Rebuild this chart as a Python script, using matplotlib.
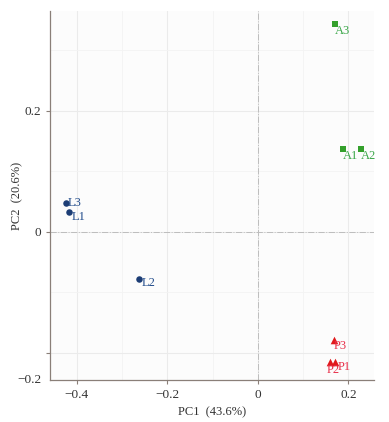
import matplotlib
matplotlib.use("Agg")
import matplotlib.pyplot as plt
from matplotlib.ticker import MultipleLocator

plt.rcParams['font.family'] = ['Liberation Serif', 'DejaVu Serif']

# sample scores on the first two components
names = ['L1', 'L2', 'L3', 'A1', 'A2', 'A3', 'P1', 'P2', 'P3']
pc1 = [-0.417, -0.263, -0.424, 0.188, 0.227, 0.170, 0.170, 0.160, 0.168]
pc2 = [0.033, -0.078, 0.048, 0.137, 0.137, 0.344, -0.215, -0.215, -0.179]
groups = ['L', 'L', 'L', 'A', 'A', 'A', 'P', 'P', 'P']

colours = {'L': '#1c3d75', 'A': '#34a02c', 'P': '#e0191b'}
text_colours = {'L': '#1f4a8a', 'A': '#3aa648', 'P': '#e8304a'}
markers = {'L': 'o', 'A': 's', 'P': '^'}

# label offsets in points (like ggrepel nudges)
nudge = {'L1': (2, -4), 'L2': (2, -3), 'L3': (1, 0), 'A1': (0, -5), 'A2': (0, -5),
         'A3': (0, -5), 'P1': (2, -4), 'P2': (-3, -6), 'P3': (0, -4)}

fig = plt.figure(figsize=(3.89, 4.22), dpi=100)
ax = fig.add_axes([0.1285, 0.0995, 0.8325, 0.8745])
ax.set_facecolor('#fcfcfc')

for g in ['L', 'A', 'P']:
    xs = [x for x, gg in zip(pc1, groups) if gg == g]
    ys = [y for y, gg in zip(pc2, groups) if gg == g]
    size = 30 if g == 'P' else 22
    ax.scatter(xs, ys, marker=markers[g], color=colours[g], s=size, zorder=3, linewidths=0)

for n, x, y, g in zip(names, pc1, pc2, groups):
    ax.annotate(n, (x, y), xytext=nudge[n], textcoords='offset points',
                ha='left', va='center', fontsize=9, color=text_colours[g], zorder=4)

ax.axhline(0, color='#bdbdbd', lw=0.7, ls='-.', zorder=1)
ax.axvline(0, color='#bdbdbd', lw=0.7, ls='-.', zorder=1)

ax.set_xlim(-0.459, 0.256)
ax.set_ylim(-0.245, 0.365)
ax.set_xticks([-0.4, -0.2, 0, 0.2])
ax.set_xticklabels(['\u22120.4', '\u22120.2', '0', '0.2'])
ax.set_yticks([-0.2, 0, 0.2])
ax.set_yticklabels(['', '0', '0.2'])
ax.xaxis.set_minor_locator(MultipleLocator(0.1))
ax.yaxis.set_minor_locator(MultipleLocator(0.1))
ax.grid(True, which='major', color='#ebebeb', lw=0.8, zorder=0)
ax.grid(True, which='minor', color='#f3f3f3', lw=0.6, zorder=0)
ax.set_axisbelow(True)

ax.text(-0.025, 0.0, '\u22120.2', transform=ax.transAxes, ha='right', va='center',
        fontsize=9.5, color='#333333')

for s in ['top', 'right']:
    ax.spines[s].set_visible(False)
for s in ['left', 'bottom']:
    ax.spines[s].set_color('#8a7f78')
    ax.spines[s].set_linewidth(0.9)
ax.tick_params(which='major', length=3, color='#8a7f78', labelsize=9.5, labelcolor='#333333')
ax.tick_params(which='minor', length=0)

ax.set_xlabel('PC1  (43.6%)', fontsize=9, color='#333333', labelpad=4)
ax.set_ylabel('PC2  (20.6%)', fontsize=9, color='#333333', labelpad=0)
ax.yaxis.set_label_coords(-0.083, 0.5)

fig.savefig('out.png', dpi=100)
